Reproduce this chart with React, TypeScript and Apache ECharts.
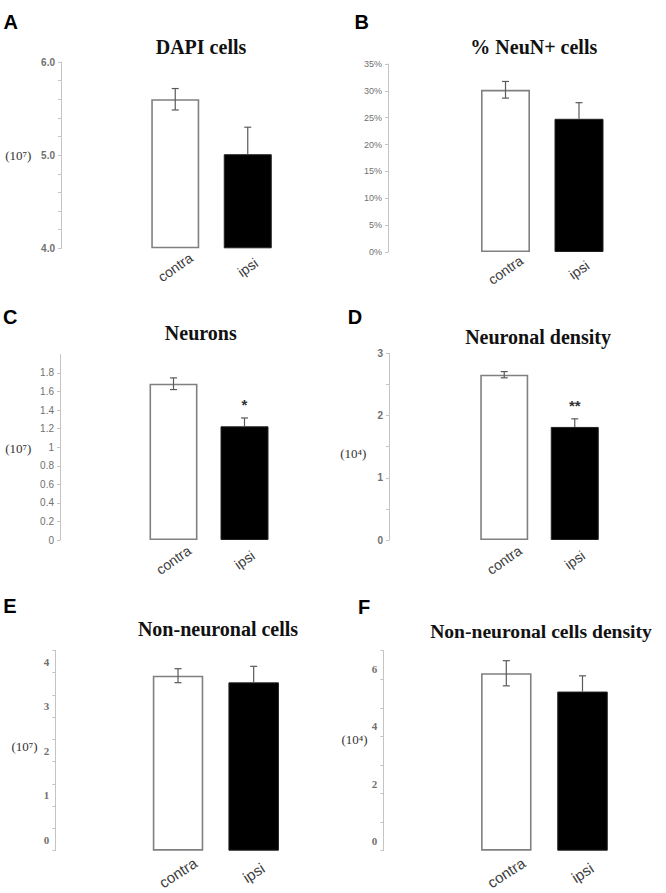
import React, { useEffect, useRef } from 'react';
import * as echarts from 'echarts';

// ---------- data ----------
const categories = ['contra', 'ipsi'];

const dapiMean = [5.6, 5.01];
const dapiErr = [0.115, 0.29];

const neunMean = [30.2, 24.8];
const neunErr = [1.55, 3.0];

const neuronsMean = [1.684, 1.225];
const neuronsErr = [0.063, 0.09];
const neuronsSig = ['', '*'];

const neuronDensityMean = [2.656, 1.817];
const neuronDensityErr = [0.05, 0.13];
const neuronDensitySig = ['', '**'];

const nonNeuronalMean = [3.93, 3.78];
const nonNeuronalErr = [0.157, 0.36];

const nonNeuronalDensityMean = [6.21, 5.57];
const nonNeuronalDensityErr = [0.44, 0.55];

const panelLetters = ['A', 'B', 'C', 'D', 'E', 'F'];
const panelTitles = [
  'DAPI cells',
  '% NeuN+ cells',
  'Neurons',
  'Neuronal density',
  'Non-neuronal cells',
  'Non-neuronal cells density',
];
const unitLabels = ['(10⁷)', '', '(10⁷)', '(10⁴)', '(10⁷)', '(10⁴)'];

// ---------- styles / layout ----------
const barFills = ['#ffffff', '#000000'];
const barBorders = ['#808080', '#222222'];
const SANS = 'Liberation Sans, Arial, sans-serif';
const SERIF = 'Liberation Serif, Times New Roman, serif';

type PanelCfg = {
  mean: number[];
  err: number[];
  sig?: string[];
  grid: { left: number; top: number; width: number; height: number };
  axisX: number;
  barWidth: number;
  yMin: number;
  yMax: number;
  interval: number;
  minorSplit?: number;
  showMaxLabel?: boolean;
  fmt: (v: number) => string;
  labelFont: string;
  labelSize: number;
  labelWeight?: string;
  labelShift?: number;
  xLabelMargin: number;
  xLabelSize: number;
  rotate: number;
  letter: [number, number];
  title: [number, number];
  titleSize: number;
  unit: [number, number];
};

const isInt = (v: number) => Math.abs(v - Math.round(v)) < 1e-6;

const panels: PanelCfg[] = [
  {
    mean: dapiMean, err: dapiErr,
    grid: { left: 139, top: 62, width: 145, height: 186.3 }, axisX: 61, barWidth: 48,
    yMin: 4, yMax: 6, interval: 1, minorSplit: 5,
    fmt: (v) => v.toFixed(1), labelFont: SANS, labelSize: 10, labelWeight: 'bold',
    xLabelMargin: 19, xLabelSize: 14, rotate: 35,
    letter: [10.8, 22], title: [201, 46.7], titleSize: 20, unit: [18.3, 155],
  },
  {
    mean: neunMean, err: neunErr,
    grid: { left: 468.75, top: 64, width: 147, height: 188 }, axisX: 388, barWidth: 49,
    yMin: 0, yMax: 35, interval: 5,
    fmt: (v) => `${Math.round(v)}%`, labelFont: SANS, labelSize: 9,
    xLabelMargin: 18, xLabelSize: 14, rotate: 35,
    letter: [361.7, 22], title: [533.8, 46.7], titleSize: 20, unit: [0, 0],
  },
  {
    mean: neuronsMean, err: neuronsErr, sig: neuronsSig,
    grid: { left: 138, top: 354.4, width: 142, height: 185.6 }, axisX: 60, barWidth: 48,
    yMin: 0, yMax: 2, interval: 0.2, showMaxLabel: false,
    fmt: (v) => `${Math.round(v * 10) / 10}`, labelFont: SANS, labelSize: 10,
    xLabelMargin: 20, xLabelSize: 14, rotate: 35,
    letter: [10.3, 317.3], title: [200.8, 333.3], titleSize: 20, unit: [18.3, 448],
  },
  {
    mean: neuronDensityMean, err: neuronDensityErr, sig: neuronDensitySig,
    grid: { left: 469, top: 353.3, width: 141, height: 186.7 }, axisX: 389, barWidth: 48,
    yMin: 0, yMax: 3, interval: 1, minorSplit: 2,
    fmt: (v) => `${Math.round(v)}`, labelFont: SANS, labelSize: 10, labelWeight: 'bold',
    xLabelMargin: 20, xLabelSize: 14, rotate: 35,
    letter: [355, 317], title: [538, 336.7], titleSize: 20, unit: [353.3, 453.8],
  },
  {
    mean: nonNeuronalMean, err: nonNeuronalErr,
    grid: { left: 140.2, top: 650.3, width: 151.3, height: 200.4 }, axisX: 55.3, barWidth: 50.5,
    yMin: 0, yMax: 4.5, interval: 0.5,
    fmt: (v) => (isInt(v) ? `${Math.round(v)}` : ''), labelFont: SERIF, labelSize: 11, labelWeight: 'bold',
    labelShift: 11,
    xLabelMargin: 22, xLabelSize: 15, rotate: 33,
    letter: [10, 605.5], title: [218, 629.3], titleSize: 20, unit: [24.5, 746.7],
  },
  {
    mean: nonNeuronalDensityMean, err: nonNeuronalDensityErr,
    grid: { left: 468.2, top: 650.7, width: 152.4, height: 200 }, axisX: 383.3, barWidth: 50.5,
    yMin: 0, yMax: 7, interval: 1,
    fmt: (v) => (isInt(v) && Math.round(v) % 2 === 0 ? `${Math.round(v)}` : ''), labelFont: SERIF, labelSize: 11, labelWeight: 'bold',
    labelShift: 10,
    xLabelMargin: 22, xLabelSize: 15, rotate: 33,
    letter: [364, 607.3], title: [541, 631.7], titleSize: 19.6, unit: [354.5, 739],
  },
];

function buildOption() {
  const grids: any[] = [];
  const xAxes: any[] = [];
  const yAxes: any[] = [];
  const series: any[] = [];
  const graphics: any[] = [];
  const axisColor = '#c4c4c4';

  panels.forEach((p, k) => {
    grids.push({ ...p.grid, containLabel: false, outerBoundsMode: 'none' });
    xAxes.push({
      type: 'category',
      gridIndex: k,
      data: categories,
      axisLine: { show: false },
      axisTick: { show: false },
      axisLabel: {
        rotate: p.rotate,
        align: 'center',
        verticalAlign: 'middle',
        margin: p.xLabelMargin,
        color: '#3c3c3c',
        fontFamily: SANS,
        fontSize: p.xLabelSize,
        interval: 0,
      },
    });
    const shift = p.labelShift || 0;
    yAxes.push({
      type: 'value',
      gridIndex: k,
      position: 'left',
      offset: p.grid.left - p.axisX,
      min: p.yMin,
      max: p.yMax,
      startValue: p.yMin,
      interval: p.interval,
      splitLine: { show: false },
      axisLine: { show: true, lineStyle: { color: axisColor, width: 1 } },
      axisTick: { show: true, length: 3, lineStyle: { color: axisColor } },
      minorTick: p.minorSplit
        ? { show: true, splitNumber: p.minorSplit, length: 3, lineStyle: { color: axisColor } }
        : { show: false },
      axisLabel: {
        formatter: p.fmt,
        color: '#707070',
        fontFamily: p.labelFont,
        fontSize: p.labelSize,
        fontWeight: p.labelWeight || 'normal',
        margin: 6,
        showMaxLabel: p.showMaxLabel === false ? false : true,
        verticalAlign: shift ? 'bottom' : 'middle',
        lineHeight: shift ? shift * 2 : undefined,
      },
    });
    series.push({
      type: 'bar',
      xAxisIndex: k,
      yAxisIndex: k,
      barWidth: p.barWidth,
      clip: true,
      data: p.mean.map((v, i) => ({
        value: v,
        itemStyle: { color: barFills[i], borderColor: barBorders[i], borderWidth: i === 0 ? 1.6 : 1 },
      })),
      z: 2,
    });
    const sig = p.sig;
    series.push({
      type: 'custom',
      xAxisIndex: k,
      yAxisIndex: k,
      z: 5,
      data: p.mean.map((v, i) => [i, v, p.err[i]]),
      renderItem: (params: any, api: any) => {
        const i = api.value(0);
        const m = api.value(1);
        const e = api.value(2);
        const top = api.coord([i, m + e]);
        const mid = api.coord([i, m]);
        const bot = api.coord([i, m - e]);
        const x = top[0];
        const filled = barFills[params.dataIndex] !== '#ffffff';
        const stroke = '#5a5a5a';
        const cap = 3.5;
        const children: any[] = [
          { type: 'line', shape: { x1: x, y1: top[1], x2: x, y2: filled ? mid[1] : bot[1] }, style: { stroke, lineWidth: 1.2 } },
          { type: 'line', shape: { x1: x - cap, y1: top[1], x2: x + cap, y2: top[1] }, style: { stroke, lineWidth: 1.2 } },
        ];
        if (!filled) {
          children.push({ type: 'line', shape: { x1: x - cap, y1: bot[1], x2: x + cap, y2: bot[1] }, style: { stroke, lineWidth: 1.2 } });
        }
        const s = sig ? sig[params.dataIndex] : '';
        if (s) {
          children.push({
            type: 'text',
            style: {
              text: s,
              x,
              y: top[1] - 6,
              align: 'center',
              verticalAlign: 'bottom',
              fontFamily: SANS,
              fontWeight: 'bold',
              fontSize: 15,
              fill: '#333',
            },
          });
        }
        return { type: 'group', children };
      },
    });

    graphics.push({
      type: 'text',
      x: p.letter[0],
      y: p.letter[1],
      style: {
        text: panelLetters[k],
        align: 'center',
        verticalAlign: 'middle',
        fontFamily: SANS,
        fontWeight: 'bold',
        fontSize: 20,
        fill: '#000',
      },
    });
    graphics.push({
      type: 'text',
      x: p.title[0],
      y: p.title[1],
      style: {
        text: panelTitles[k],
        align: 'center',
        verticalAlign: 'middle',
        fontFamily: SERIF,
        fontWeight: 'bold',
        fontSize: p.titleSize,
        fill: '#111',
      },
    });
    if (unitLabels[k]) {
      graphics.push({
        type: 'text',
        x: p.unit[0],
        y: p.unit[1],
        style: {
          text: unitLabels[k],
          align: 'center',
          verticalAlign: 'middle',
          fontFamily: SERIF,
          fontSize: 13,
          fill: '#333333',
        },
      });
    }
  });

  return {
    animation: false,
    backgroundColor: '#ffffff',
    grid: grids,
    xAxis: xAxes,
    yAxis: yAxes,
    series,
    graphic: { elements: graphics },
  };
}

export default function App() {
  const ref = useRef<HTMLDivElement>(null);
  useEffect(() => {
    if (!ref.current) return;
    const chart = echarts.init(ref.current, undefined, { renderer: 'svg', width: 666, height: 893 });
    chart.setOption(buildOption() as any);
    return () => chart.dispose();
  }, []);
  return (
    <div
      ref={ref}
      style={{ position: 'absolute', left: 0, top: 0, width: 666, height: 893, background: '#fff' }}
    />
  );
}
